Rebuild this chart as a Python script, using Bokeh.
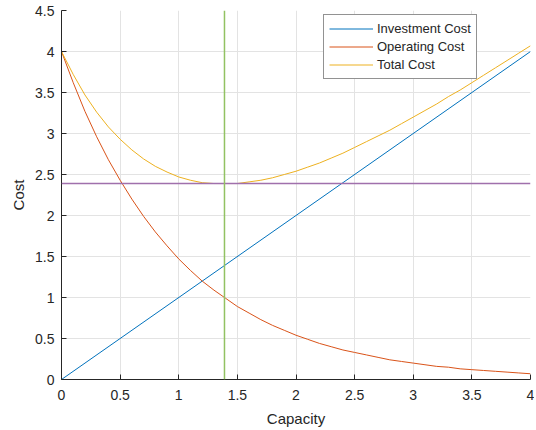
from bokeh.plotting import figure
from bokeh.models import Legend, LegendItem, Span, FixedTicker, Range1d
from bokeh.embed import file_html
from bokeh.resources import INLINE

# ---- data ----
capacity = [0.0, 0.1, 0.2, 0.3, 0.4, 0.5, 0.6, 0.7, 0.8, 0.9,
            1.0, 1.1, 1.2, 1.3, 1.4, 1.5, 1.6, 1.7, 1.8, 1.9,
            2.0, 2.1, 2.2, 2.3, 2.4, 2.5, 2.6, 2.7, 2.8, 2.9,
            3.0, 3.1, 3.2, 3.3, 3.4, 3.5, 3.6, 3.7, 3.8, 3.9, 4.0]
investment_cap = [0.0, 4.0]
investment_cost = [0.0, 4.0]
operating_cost = [4.00, 3.62, 3.27, 2.96, 2.68, 2.43, 2.20, 1.99, 1.80, 1.63,
                  1.47, 1.33, 1.20, 1.09, 0.99, 0.89, 0.81, 0.73, 0.66, 0.60,
                  0.54, 0.49, 0.44, 0.40, 0.36, 0.33, 0.30, 0.27, 0.24, 0.22,
                  0.20, 0.18, 0.16, 0.15, 0.13, 0.12, 0.11, 0.10, 0.09, 0.08, 0.07]
total_cost = [4.00, 3.72, 3.47, 3.26, 3.08, 2.93, 2.80, 2.69, 2.60, 2.53,
              2.47, 2.43, 2.40, 2.39, 2.39, 2.39, 2.41, 2.43, 2.46, 2.50,
              2.54, 2.59, 2.64, 2.70, 2.76, 2.83, 2.90, 2.97, 3.04, 3.12,
              3.20, 3.28, 3.36, 3.45, 3.53, 3.62, 3.71, 3.80, 3.89, 3.98, 4.07]
optimal_capacity = 1.39
minimum_total = 2.39
x_ticks = [0, 0.5, 1, 1.5, 2, 2.5, 3, 3.5, 4]
y_ticks = [0, 0.5, 1, 1.5, 2, 2.5, 3, 3.5, 4, 4.5]

FONT = "Liberation Sans"
AX = "#262626"

p = figure(frame_width=469, frame_height=369, output_backend="svg",
           toolbar_location=None, x_range=Range1d(0, 4), y_range=Range1d(0, 4.5),
           min_border_left=61, min_border_top=10, min_border_right=4, min_border_bottom=10)
p.outline_line_color = None
p.background_fill_color = "white"

blue, red, yellow, purple, green = "#0072BD", "#D95319", "#EDB120", "#A070AC", "#92C262"

r1 = p.line(investment_cap, investment_cost, line_color=blue, line_width=1)
r2 = p.line(capacity, operating_cost, line_color=red, line_width=1)
r3 = p.line(capacity, total_cost, line_color=yellow, line_width=1)
p.add_layout(Span(location=minimum_total, dimension="width", line_color=purple, line_width=1.5))
p.add_layout(Span(location=optimal_capacity, dimension="height", line_color=green, line_width=1.5))

for ax, ticks in ((p.xaxis[0], x_ticks), (p.yaxis[0], y_ticks)):
    ax.ticker = FixedTicker(ticks=ticks)
    ax.major_tick_in = 5
    ax.major_tick_out = 0
    ax.minor_tick_line_color = None
    ax.axis_line_color = AX
    ax.major_tick_line_color = AX
    ax.major_label_text_font = FONT
    ax.major_label_text_font_size = "14px"
    ax.major_label_text_color = AX
    ax.axis_label_text_font = FONT
    ax.axis_label_text_font_size = "15px"
    ax.axis_label_text_font_style = "normal"
    ax.axis_label_text_color = AX
p.xaxis.major_label_overrides = {0: "0", 1: "1", 2: "2", 3: "3", 4: "4"}
p.yaxis.major_label_overrides = {0: "0", 1: "1", 2: "2", 3: "3", 4: "4"}
p.xaxis.axis_label = "Capacity"
p.yaxis.axis_label = "Cost"
p.xaxis.major_label_standoff = 10
p.xaxis.axis_label_standoff = 7
p.yaxis.major_label_standoff = 7

p.grid.grid_line_color = "#e3e3e3"
p.grid.grid_line_width = 1

legend = Legend(items=[LegendItem(label="Investment Cost", renderers=[r1]),
                       LegendItem(label="Operating Cost", renderers=[r2]),
                       LegendItem(label="Total Cost", renderers=[r3])],
                location=(262, 300))
legend.label_text_font = FONT
legend.label_text_font_size = "13px"
legend.label_text_color = AX
legend.border_line_color = AX
legend.border_line_width = 1
legend.glyph_width = 44
legend.glyph_height = 17
legend.label_height = 17
legend.label_standoff = 4
legend.spacing = 1
legend.padding = 5
legend.margin = 0
legend.background_fill_alpha = 1
p.add_layout(legend)

open("out.html", "w").write(file_html(p, INLINE))
